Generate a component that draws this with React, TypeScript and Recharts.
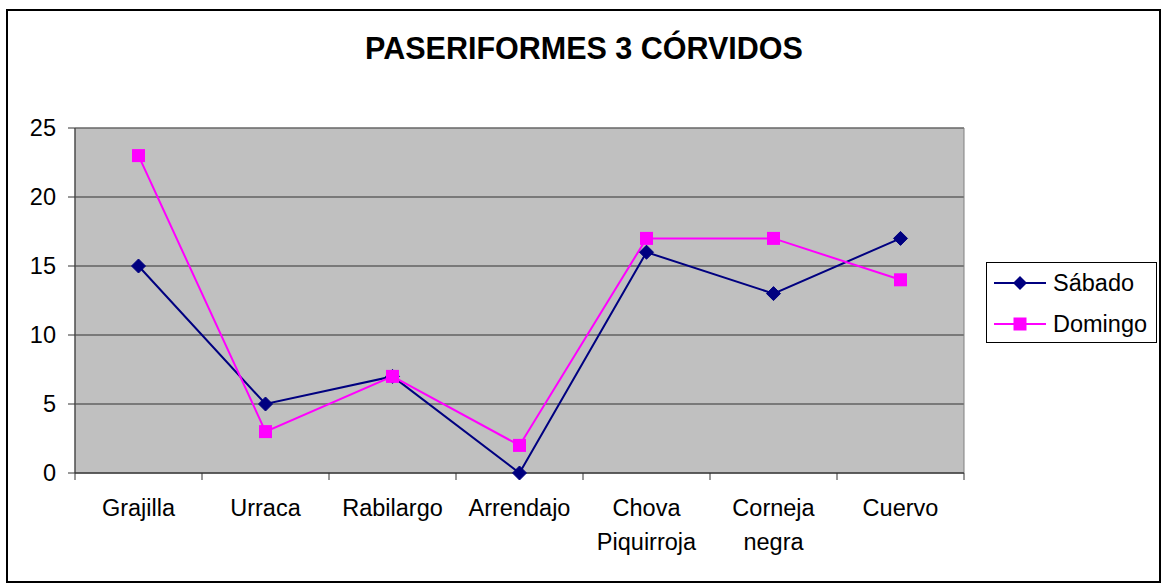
import React from 'react';
import { LineChart, Line, XAxis, YAxis, CartesianGrid, ReferenceArea } from 'recharts';

const categories = ['Grajilla', 'Urraca', 'Rabilargo', 'Arrendajo', 'Chova Piquirroja', 'Corneja negra', 'Cuervo'];
const sabado = [15, 5, 7, 0, 16, 13, 17];
const domingo = [23, 3, 7, 2, 17, 17, 14];
const yTicks = [0, 5, 10, 15, 20, 25];
const seriesNames = ['Sábado', 'Domingo'];

const data = categories.map((c, i) => ({ name: c, sabado: sabado[i], domingo: domingo[i] }));

const W = 1165;
const H = 585;
const ML = 75;
const MR = 201;
const MT = 128;
const XH = 60;
const MB = 112 - XH;
const BW = (W - ML - MR) / categories.length;
const FONT = '"Liberation Sans", Arial, sans-serif';
const NAVY = '#000080';
const MAGENTA = '#FF00FF';

const XTick = (props: any) => {
  const { x, y, payload, index } = props;
  const lines = String(payload.value).split(' ');
  const last = index === categories.length - 1;
  return (
    <g>
      <line x1={x - BW / 2} x2={x - BW / 2} y1={y} y2={y + 7} stroke="#333" strokeWidth={1} />
      {last && <line x1={x + BW / 2} x2={x + BW / 2} y1={y} y2={y + 7} stroke="#333" strokeWidth={1} />}
      <text x={x} y={y + 43} textAnchor="middle" fontSize={23.5} fontFamily={FONT} fill="#000">
        {lines.map((l, i) => (
          <tspan key={i} x={x} dy={i === 0 ? 0 : 34}>{l}</tspan>
        ))}
      </text>
    </g>
  );
};

const Diamond = (props: any) => {
  const { cx, cy } = props;
  if (cx == null || cy == null) return null;
  const r = 7;
  return <path d={`M${cx},${cy - r}L${cx + r},${cy}L${cx},${cy + r}L${cx - r},${cy}Z`} fill={NAVY} stroke={NAVY} />;
};

const Square = (props: any) => {
  const { cx, cy } = props;
  if (cx == null || cy == null) return null;
  const r = 6.5;
  return <rect x={cx - r} y={cy - r} width={2 * r} height={2 * r} fill={MAGENTA} />;
};

const LegendBox = () => (
  <svg width={172} height={82} style={{ display: 'block' }}>
    <rect x={0.5} y={0.5} width={170} height={80} fill="#fff" stroke="#000" strokeWidth={1} />
    <line x1={8} x2={60} y1={21} y2={21} stroke={NAVY} strokeWidth={2} />
    <path d="M34,14L41,21L34,28L27,21Z" fill={NAVY} />
    <text x={67} y={29} fontSize={23.5} fontFamily={FONT} fill="#000">{seriesNames[0]}</text>
    <line x1={8} x2={60} y1={62} y2={62} stroke={MAGENTA} strokeWidth={2} />
    <rect x={27.5} y={55.5} width={13} height={13} fill={MAGENTA} />
    <text x={67} y={70} fontSize={23.5} fontFamily={FONT} fill="#000">{seriesNames[1]}</text>
  </svg>
);

export default function App() {
  return (
    <div style={{ position: 'absolute', left: 0, top: 0, width: W, height: H, background: '#fff' }}>
      <div style={{ position: 'absolute', left: 6, top: 9, width: 1155, height: 574, border: '2px solid #000', boxSizing: 'border-box' }} />
      <svg width={W} height={80} style={{ position: 'absolute', left: 0, top: 0 }}>
        <text x={584} y={59} textAnchor="middle" fontSize={30.5} fontWeight="bold" fontFamily={FONT} fill="#000">
          PASERIFORMES 3 CÓRVIDOS
        </text>
      </svg>
      <div style={{ position: 'absolute', left: 0, top: 0 }}>
        <LineChart width={W} height={H} data={data} margin={{ top: MT, right: MR, bottom: MB, left: 0 }}>
          <CartesianGrid vertical={false} fill="#C0C0C0" stroke="#333" strokeOpacity={1} />
          <ReferenceArea y1={0} y2={25} fill="none" stroke="#808080" strokeWidth={1} ifOverflow="visible" />
          <XAxis
            dataKey="name"
            scale="band"
            interval={0}
            height={XH}
            tickLine={false}
            tickSize={0}
            tickMargin={0}
            axisLine={{ stroke: '#333', strokeWidth: 1 }}
            tick={<XTick />}
          />
          <YAxis
            width={ML}
            domain={[0, 25]}
            ticks={yTicks}
            interval={0}
            tickSize={7}
            tickMargin={12}
            axisLine={{ stroke: '#333', strokeWidth: 1 }}
            tickLine={{ stroke: '#333' }}
            tick={{ fontSize: 23.5, fontFamily: FONT, fill: '#000' }}
          />
          <Line
            type="linear"
            dataKey="sabado"
            name={seriesNames[0]}
            stroke={NAVY}
            strokeWidth={2}
            dot={<Diamond />}
            activeDot={false}
            isAnimationActive={false}
          />
          <Line
            type="linear"
            dataKey="domingo"
            name={seriesNames[1]}
            stroke={MAGENTA}
            strokeWidth={2}
            dot={<Square />}
            activeDot={false}
            isAnimationActive={false}
          />
        </LineChart>
      </div>
      <div style={{ position: 'absolute', left: 986, top: 262 }}>
        <LegendBox />
      </div>
    </div>
  );
}
